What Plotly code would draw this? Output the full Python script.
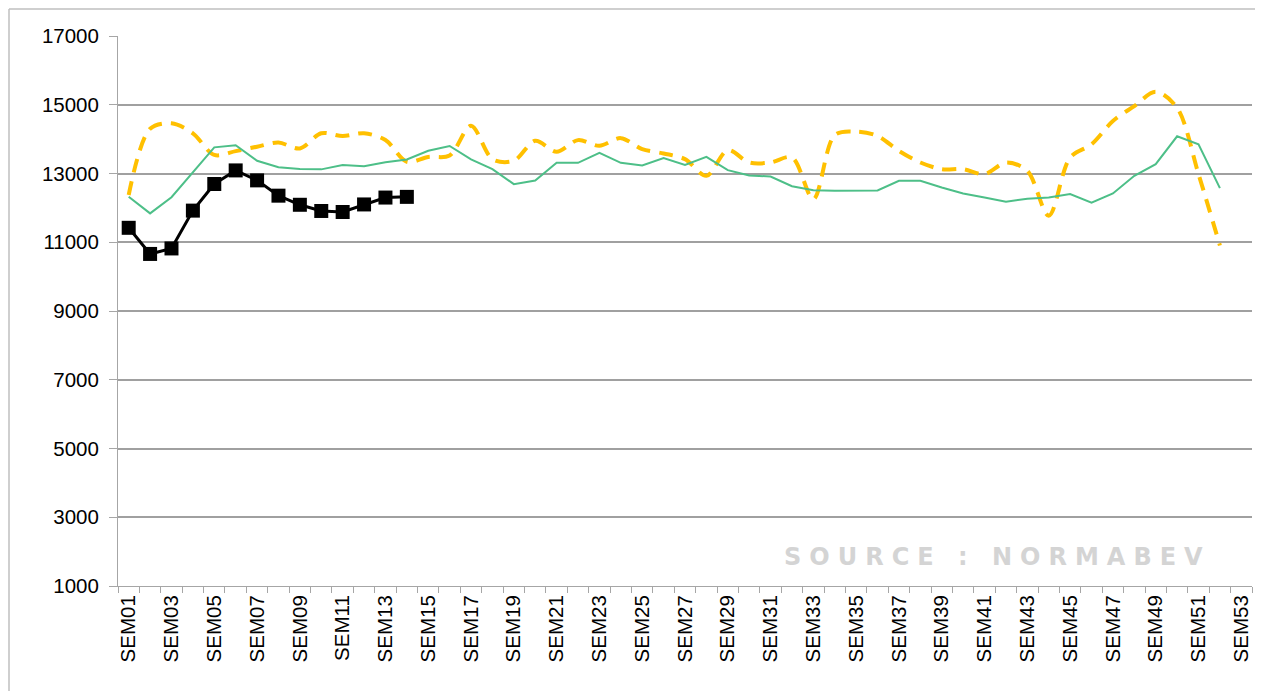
import plotly.graph_objects as go

weeks = [f"SEM{i:02d}" for i in range(1, 54)]
tick_labels = weeks[::2]

# Black series (current year, SEM01-SEM14)
serie_n = [11420, 10660, 10820, 11920, 12695, 13090, 12800, 12355, 12090,
           11910, 11880, 12100, 12300, 12320]

# Green series (SEM01-SEM52)
serie_n1 = [12325, 11840, 12310, 13050, 13760, 13820, 13370, 13180, 13130,
            13120, 13250, 13210, 13330, 13410, 13660, 13800, 13410, 13126,
            12690, 12796, 13311, 13311, 13602, 13311, 13233, 13447, 13252,
            13485, 13097, 12942, 12913, 12631, 12514, 12498, 12498, 12507,
            12787, 12787, 12594, 12420, 12304, 12179, 12266, 12304, 12401,
            12150, 12420, 12932, 13270, 14082, 13850, 12575]

# Orange dashed series (SEM01-SEM52)
serie_n2 = [12375, 14300, 14460, 14170, 13540, 13650, 13780, 13900, 13730,
            14170, 14090, 14170, 13975, 13340, 13480, 13524, 14389, 13417,
            13369, 13951, 13631, 13971, 13806, 14029, 13709, 13583, 13418,
            12932, 13680, 13320, 13320, 13466, 12252, 14120, 14217, 14092,
            13657, 13319, 13126, 13126, 12981, 13319, 13077, 11773, 13464,
            13850, 14526, 14961, 15376, 14913, 12981, 10904]

y_ticks = list(range(1000, 17001, 2000))
y_tick_labels = [str(v) for v in y_ticks]

def xpos(n):
    return [weeks.index(w) + 1 for w in weeks[:n]]

fig = go.Figure()
fig.add_trace(go.Scatter(
    x=xpos(len(serie_n2)), y=serie_n2, mode="lines",
    line=dict(color="#FFC000", width=4, dash="14px,9px", shape="spline", smoothing=0.9),
    showlegend=False, hoverinfo="skip"))
fig.add_trace(go.Scatter(
    x=xpos(len(serie_n1)), y=serie_n1, mode="lines",
    line=dict(color="#4DBF88", width=2),
    showlegend=False, hoverinfo="skip"))
fig.add_trace(go.Scatter(
    x=xpos(len(serie_n)), y=serie_n, mode="lines+markers",
    line=dict(color="#000000", width=3),
    marker=dict(symbol="square", size=14, color="#000000"),
    showlegend=False, hoverinfo="skip"))

font = "Liberation Sans, Arial, sans-serif"
L, R, T, B = 110, 11, 28, 105
W, H = 1255, 683
pw, ph = W - L - R, H - T - B

fig.update_layout(
    width=W, height=H,
    margin=dict(l=L, r=R, t=T, b=B),
    paper_bgcolor="white", plot_bgcolor="white",
    font=dict(family=font, size=20, color="#000000"),
    xaxis=dict(
        range=[0.5, 53.5],
        tickmode="array",
        tickvals=[weeks.index(t) + 1 for t in tick_labels],
        ticktext=tick_labels,
        tickangle=-90,
        ticks="",
        showgrid=False, zeroline=False,
        showline=True, linecolor="#A6A6A6", linewidth=1,
        tickfont=dict(family=font, size=20.5, color="#000000"),
        minor=dict(ticks="outside", tick0=0.5, dtick=1, ticklen=6,
                   tickcolor="#A6A6A6", tickwidth=1, showgrid=False),
    ),
    yaxis=dict(
        range=[1000, 17000],
        tickmode="array", tickvals=y_ticks, ticktext=y_tick_labels,
        ticks="outside", ticklen=8, tickcolor="#A6A6A6",
        ticklabelstandoff=6,
        showgrid=True, gridcolor="#A0A0A0", gridwidth=1.5,
        zeroline=False,
        showline=True, linecolor="#A6A6A6", linewidth=1,
        tickfont=dict(family=font, size=20.5, color="#000000"),
    ),
    annotations=[dict(
        x=0.776, y=0.052, xref="paper", yref="paper",
        text='<span style="letter-spacing:8px">SOURCE : NORMABEV</span>',
        showarrow=False, xanchor="center", yanchor="middle",
        font=dict(family="DejaVu Sans, sans-serif", size=24, color="#D4D4D4", weight="bold"),
    )],
    shapes=[
        dict(type="line", xref="paper", yref="paper",
             x0=(-L + 1) / pw, x1=(W - L) / pw,
             y0=1 + (T - 1) / ph, y1=1 + (T - 1) / ph,
             line=dict(color="#BFBFBF", width=1.5)),
        dict(type="line", xref="paper", yref="paper",
             x0=(-L + 1) / pw, x1=(-L + 1) / pw,
             y0=1 + (T - 1) / ph, y1=-B / ph,
             line=dict(color="#BFBFBF", width=1.5)),
    ],
)

fig.write_html("out.html")
